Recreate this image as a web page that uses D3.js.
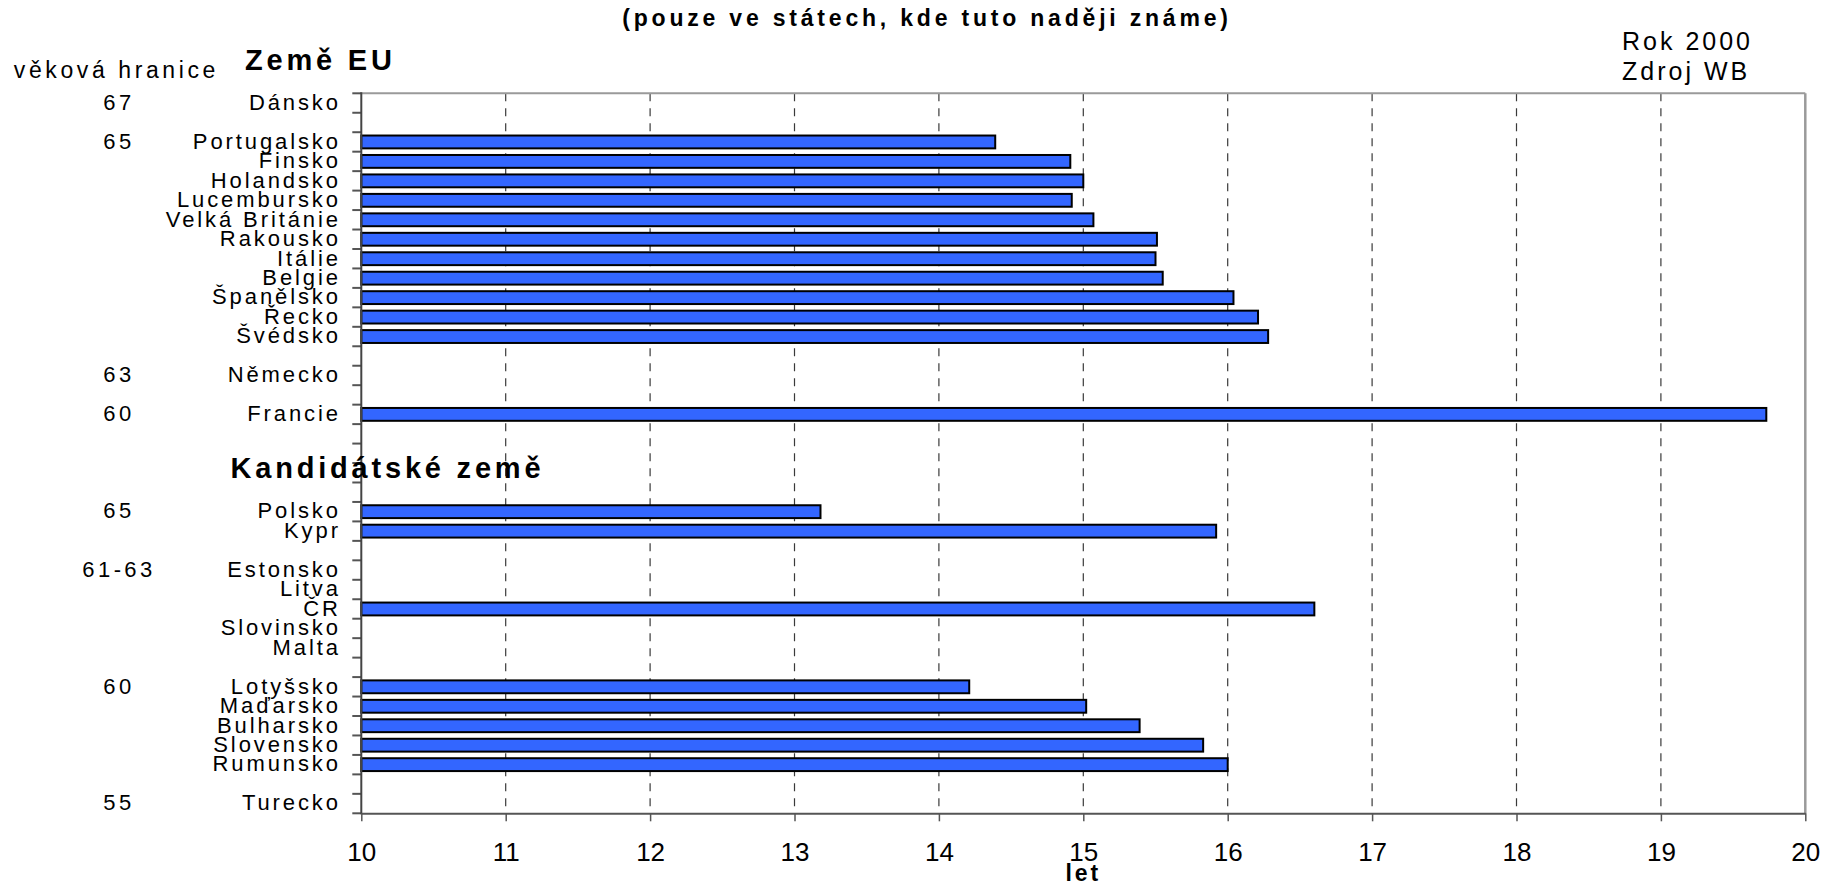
<!DOCTYPE html>
<html lang="cs">
<head>
<meta charset="utf-8">
<script src="https://cdn.jsdelivr.net/npm/d3@7"></script>
<style>
  html, body { margin: 0; padding: 0; background: #fff; }
  svg { display: block; }
  text { font-family: "Liberation Sans", Arial, sans-serif; fill: #000; }
</style>
</head>
<body>
<svg id="chart" width="1823" height="886"></svg>
<script>
// Rows of the chart, top to bottom; empty strings are spacer rows between groups
const rows = [
  "Dánsko", "", "Portugalsko", "Finsko", "Holandsko", "Lucembursko", "Velká Británie",
  "Rakousko", "Itálie", "Belgie", "Španělsko", "Řecko", "Švédsko", "", "Německo", "",
  "Francie", "", "", "", "", "Polsko", "Kypr", "", "Estonsko", "Litva", "ČR", "Slovinsko",
  "Malta", "", "Lotyšsko", "Maďarsko", "Bulharsko", "Slovensko", "Rumunsko", "", "Turecko"
];

// Years of life expected after reaching the retirement age (null = not known)
const years = [
  null, null, 14.39, 14.91, 15.00, 14.92, 15.07,
  15.51, 15.50, 15.55, 16.04, 16.21, 16.28, null, null, null,
  19.73, null, null, null, null, 13.18, 15.92, null, null, null, 16.60, null,
  null, null, 14.21, 15.02, 15.39, 15.83, 16.00, null, null
];

// Retirement age limit, written next to the first country of each group
const ageLimits = [
  "67", "", "65", "", "", "", "",
  "", "", "", "", "", "", "", "63", "",
  "60", "", "", "", "", "65", "", "", "61-63", "", "", "",
  "", "", "60", "", "", "", "", "", "55"
];

// Section headings
const sectionNames = ["Země EU", "Kandidátské země"];

const xTicks = [10, 11, 12, 13, 14, 15, 16, 17, 18, 19, 20];

const titleText = "(pouze ve státech, kde tuto naději známe)";
const noteLines = ["Rok 2000", "Zdroj WB"];
const ageHeader = "věková hranice";
const xTitle = "let";

const svg = d3.select("#chart");

const plot = { left: 361.3, right: 1805.3, top: 93.3, bottom: 813.3 };

const x = d3.scaleLinear().domain([10, 20]).range([plot.left, plot.right]);
const y = d3.scaleBand().domain(d3.range(rows.length)).range([plot.top, plot.bottom]);
const bw = y.bandwidth();

// dashed vertical gridlines
svg.append("g")
  .selectAll("line")
  .data(xTicks.filter(t => t > 10 && t < 20))
  .join("line")
  .attr("x1", d => x(d)).attr("x2", d => x(d))
  .attr("y1", plot.top).attr("y2", plot.bottom)
  .attr("stroke", "#3a3a3a")
  .attr("stroke-width", 1.2)
  .attr("stroke-dasharray", "8,7");

// frame: top and right edges
svg.append("line")
  .attr("x1", plot.left).attr("x2", plot.right)
  .attr("y1", plot.top).attr("y2", plot.top)
  .attr("stroke", "#9a9a9a").attr("stroke-width", 2);
svg.append("line")
  .attr("x1", plot.right).attr("x2", plot.right)
  .attr("y1", plot.top).attr("y2", plot.bottom)
  .attr("stroke", "#9a9a9a").attr("stroke-width", 2.5);

// bars
const barData = years.map((v, i) => ({ i, v })).filter(d => d.v !== null);
svg.append("g")
  .selectAll("rect")
  .data(barData)
  .join("rect")
  .attr("x", x(10))
  .attr("y", d => y(d.i) + bw * 0.17)
  .attr("width", d => x(d.v) - x(10))
  .attr("height", bw * 0.66)
  .attr("fill", "#3366ff")
  .attr("stroke", "#000")
  .attr("stroke-width", 2);

// left axis with a tick at every row boundary
const boundaries = d3.range(rows.length + 1).map(k => plot.top + k * bw);
svg.append("g")
  .selectAll("line")
  .data(boundaries)
  .join("line")
  .attr("x1", plot.left - 9).attr("x2", plot.left)
  .attr("y1", d => d).attr("y2", d => d)
  .attr("stroke", "#555").attr("stroke-width", 2);
svg.append("line")
  .attr("x1", plot.left).attr("x2", plot.left)
  .attr("y1", plot.top - 1).attr("y2", plot.bottom + 1)
  .attr("stroke", "#444").attr("stroke-width", 2);

// bottom axis
const xAxis = d3.axisBottom(x)
  .tickValues(xTicks)
  .tickFormat(d3.format("d"))
  .tickSize(8)
  .tickSizeOuter(0)
  .tickPadding(21);
const gx = svg.append("g")
  .attr("transform", `translate(0,${plot.bottom})`)
  .call(xAxis);
gx.select(".domain").attr("stroke", "#555").attr("stroke-width", 2);
gx.selectAll(".tick line").attr("stroke", "#555").attr("stroke-width", 1.5);
gx.selectAll(".tick text")
  .attr("font-family", "Liberation Sans, Arial, sans-serif")
  .attr("font-size", 26)
  .attr("fill", "#000");

// country labels
svg.append("g")
  .selectAll("text")
  .data(rows.map((r, i) => ({ r, i })).filter(d => d.r !== ""))
  .join("text")
  .attr("x", 338 + 2.9)
  .attr("y", d => y(d.i) + bw / 2 + 6.8)
  .attr("text-anchor", "end")
  .attr("font-size", 22)
  .attr("letter-spacing", 2.9)
  .text(d => d.r);

// retirement age labels
svg.append("g")
  .selectAll("text")
  .data(ageLimits.map((a, i) => ({ a, i })).filter(d => d.a !== ""))
  .join("text")
  .attr("x", 119)
  .attr("y", d => y(d.i) + bw / 2 + 6.8)
  .attr("text-anchor", "middle")
  .attr("font-size", 22)
  .attr("letter-spacing", 3.4)
  .text(d => d.a);

// section headings
const headingX = [245, 230.5];
const headingY = [70, 477.7];
svg.append("g")
  .selectAll("text")
  .data(sectionNames)
  .join("text")
  .attr("x", (d, k) => headingX[k])
  .attr("y", (d, k) => headingY[k])
  .attr("font-size", 29)
  .attr("font-weight", "bold")
  .attr("letter-spacing", 3.8)
  .text(d => d);

// column header for the age limits
svg.append("text")
  .attr("x", 13.8).attr("y", 78.3)
  .attr("font-size", 23)
  .attr("letter-spacing", 3.6)
  .text(ageHeader);

// title
svg.append("text")
  .attr("x", 927).attr("y", 26)
  .attr("text-anchor", "middle")
  .attr("font-size", 23)
  .attr("font-weight", "bold")
  .attr("letter-spacing", 3.8)
  .text(titleText);

// year and source note
svg.append("g")
  .selectAll("text")
  .data(noteLines)
  .join("text")
  .attr("x", 1622)
  .attr("y", (d, k) => 50 + k * 30)
  .attr("font-size", 25)
  .attr("letter-spacing", 3)
  .text(d => d);

// x axis title
svg.append("text")
  .attr("x", (plot.left + plot.right) / 2).attr("y", 881)
  .attr("text-anchor", "middle")
  .attr("font-size", 23)
  .attr("font-weight", "bold")
  .attr("letter-spacing", 3)
  .text(xTitle);
</script>
</body>
</html>
